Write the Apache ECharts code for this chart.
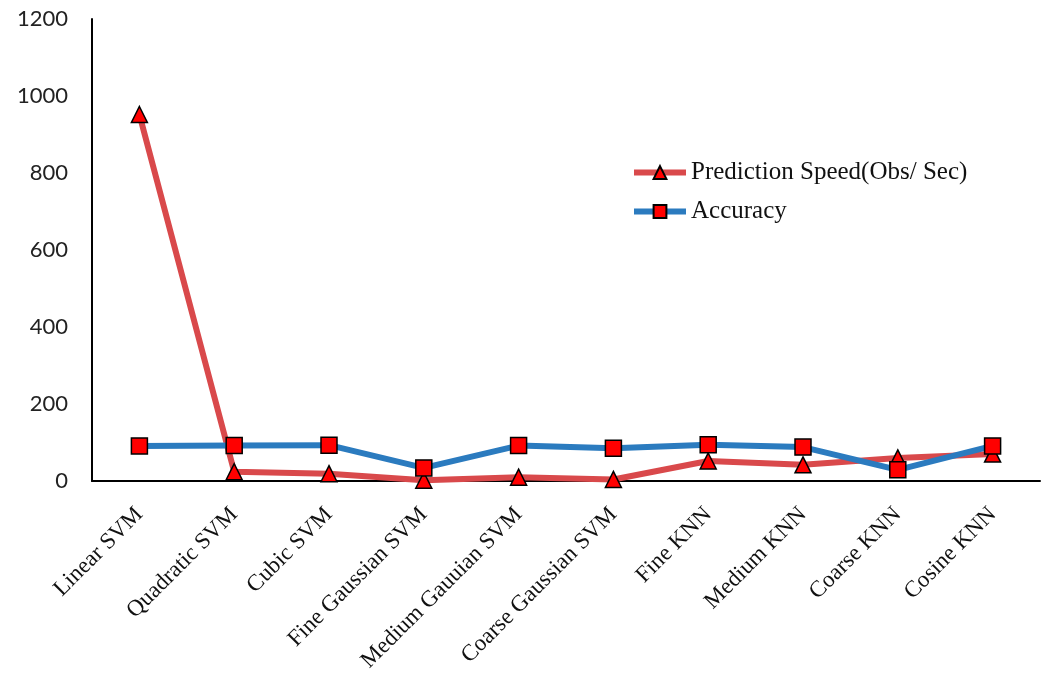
<!DOCTYPE html>
<html>
<head>
<meta charset="utf-8">
<style>
  html, body { margin: 0; padding: 0; background: #fff; }
  #chart { width: 1046px; height: 675px; }
</style>
<script src="https://cdn.jsdelivr.net/npm/echarts@6/dist/echarts.min.js"></script>
</head>
<body>
<div id="chart"></div>
<script>
const categories = [
  'Linear SVM', 'Quadratic SVM', 'Cubic SVM', 'Fine Gaussian SVM',
  'Medium Gauuian SVM', 'Coarse Gaussian SVM', 'Fine KNN', 'Medium KNN',
  'Coarse KNN', 'Cosine KNN'
];
const predictionSpeed = [952, 24, 19, 2, 10, 4, 52, 42, 60, 70];
const accuracy = [91, 92, 93, 34, 92, 85, 94, 88, 29, 91];
const yTicks = [0, 200, 400, 600, 800, 1000, 1200];

const chart = echarts.init(document.getElementById('chart'));
chart.setOption({
  animation: false,
  backgroundColor: '#ffffff',
  grid: { left: 92, right: 6, top: 19, bottom: 194, containLabel: false },
  legend: {
    orient: 'vertical',
    left: 626,
    top: 155,
    itemWidth: 52,
    itemHeight: 16,
    itemGap: 14,
    lineStyle: { width: 6 },
    textStyle: { fontFamily: 'Liberation Serif', fontSize: 25, color: '#111' },
    data: ['Prediction Speed(Obs/ Sec)', 'Accuracy']
  },
  xAxis: {
    type: 'category',
    data: categories,
    boundaryGap: true,
    axisLine: { lineStyle: { color: '#000', width: 2 } },
    axisTick: { show: false },
    axisLabel: {
      rotate: 45,
      interval: 0,
      margin: 30,
      fontFamily: 'Liberation Serif',
      fontSize: 23,
      color: '#111'
    }
  },
  yAxis: {
    type: 'value',
    min: yTicks[0],
    max: yTicks[yTicks.length - 1],
    interval: 200,
    axisLine: { show: true, lineStyle: { color: '#000', width: 2 } },
    axisTick: { show: false },
    splitLine: { show: false },
    axisLabel: {
      margin: 24,
      fontFamily: 'Lato',
      fontSize: 22,
      color: '#222',
      formatter: (v) => String(v)
    }
  },
  series: [
    {
      name: 'Prediction Speed(Obs/ Sec)',
      type: 'line',
      data: predictionSpeed,
      symbol: 'triangle',
      symbolSize: 16,
      lineStyle: { color: '#d9494b', width: 6 },
      itemStyle: { color: '#ff0000', borderColor: '#000', borderWidth: 1.5 },
      z: 2
    },
    {
      name: 'Accuracy',
      type: 'line',
      data: accuracy,
      symbol: 'rect',
      symbolSize: 16,
      lineStyle: { color: '#2b7bbf', width: 6 },
      itemStyle: { color: '#ff0000', borderColor: '#000', borderWidth: 1.5 },
      z: 3
    }
  ]
});
</script>
</body>
</html>
